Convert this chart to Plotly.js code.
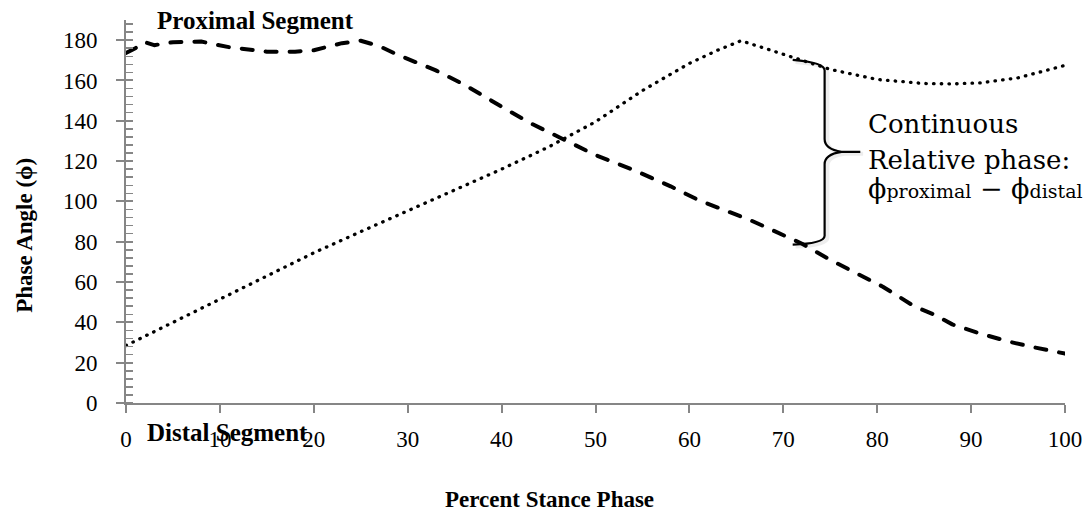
<!DOCTYPE html>
<html>
<head>
<meta charset="utf-8">
<script src="https://cdn.plot.ly/plotly-3.0.1.min.js"></script>
<style>
  html, body { margin: 0; padding: 0; background: #fff; }
  #chart { width: 1090px; height: 512px; }
  /* round caps give the dashes and dots their soft ends */
  .scatterlayer .js-line { stroke-linecap: round !important; stroke-linejoin: round !important; }
</style>
</head>
<body>
<div id="chart"></div>
<script>
// Percent of stance phase
const proximalX = [0, 1, 2, 3, 5, 8, 11, 15, 18, 20, 23, 25, 27, 29, 33, 36, 40, 43, 46.5, 50, 54, 58, 61, 66.5, 72, 75, 80.6, 84, 86, 88, 90.6, 93.8, 96.6, 100];
// Phase angle of the proximal segment (degrees)
const proximalPhase = [173.7, 176, 179, 177.5, 179, 179.3, 176.5, 174.3, 174.3, 175, 178.5, 179.7, 177, 172.6, 165, 158, 147, 139, 131, 123, 115.7, 107.5, 100.6, 90.7, 79, 71, 57.7, 47.8, 44, 39, 35, 30.7, 27.7, 24.5];

const distalX = [0, 5, 10, 15, 20, 25, 30, 35, 40, 45, 50, 55, 60, 63, 65.5, 68, 71, 75, 80, 85, 88, 91, 95, 100];
// Phase angle of the distal segment (degrees)
const distalPhase = [28.5, 40, 51.4, 63, 74.5, 85, 95.3, 105.5, 116, 127, 139.5, 155, 168.5, 175, 179.7, 176, 171.6, 165.5, 160.5, 158.5, 158.3, 158.8, 161.3, 167.5];

const xTicks = [0, 10, 20, 30, 40, 50, 60, 70, 80, 90, 100];
const yTicks = [0, 20, 40, 60, 80, 100, 120, 140, 160, 180];

const serif = 'Liberation Serif, Times New Roman, serif';
const axisGray = '#868686';

const traces = [
  {
    x: proximalX, y: proximalPhase, type: 'scatter', mode: 'lines',
    name: 'Proximal Segment',
    line: { color: '#000', width: 4, dash: '11px,13px' },
    hoverinfo: 'skip'
  },
  {
    x: distalX, y: distalPhase, type: 'scatter', mode: 'lines',
    name: 'Distal Segment',
    line: { color: '#000', width: 3.3, dash: '0.5px,7.2px' },
    hoverinfo: 'skip'
  },
  {
    // carries the overlay axis that draws the inner half of the major y ticks
    x: [null], y: [null], yaxis: 'y2', type: 'scatter', mode: 'lines',
    showlegend: false, hoverinfo: 'skip'
  }
];

// curly brace spanning the gap between the two curves
const brace = 'M 71,170.2 Q 74.4,168.9 74.4,165 L 74.4,131 Q 74.4,126 76.2,124.6 L 78.2,124.6 ' +
              'M 76.2,124.6 Q 74.4,123.4 74.4,118.5 L 74.4,83 Q 74.4,79.2 71,78.6';
const braceShadow = 'M 71.3,169.2 Q 74.7,167.9 74.7,164 L 74.7,130 Q 74.7,125 76.5,123.6 L 78.5,123.6 ' +
              'M 76.5,123.6 Q 74.7,122.4 74.7,117.5 L 74.7,82 Q 74.7,78.2 71.3,77.6';

const layout = {
  width: 1090, height: 512,
  margin: { l: 126, r: 25, t: 20, b: 108.7 },
  paper_bgcolor: '#fff', plot_bgcolor: '#fff',
  showlegend: false,
  font: { family: serif, color: '#000', size: 23 },
  xaxis: {
    range: [0, 100], tickmode: 'array', tickvals: xTicks, ticktext: xTicks.map(String),
    showgrid: false, zeroline: false,
    showline: true, linecolor: axisGray, linewidth: 2,
    ticks: 'outside', ticklen: 8, tickwidth: 2, tickcolor: axisGray,
    ticklabelstandoff: 6,
    tickfont: { family: serif, size: 23, color: '#000' }
  },
  yaxis: {
    range: [0, 190], tickmode: 'array', tickvals: yTicks, ticktext: yTicks.map(String),
    showgrid: false, zeroline: false,
    showline: true, linecolor: axisGray, linewidth: 2,
    ticks: 'outside', ticklen: 8, tickwidth: 2, tickcolor: axisGray,
    ticklabelstandoff: 14,
    tickfont: { family: serif, size: 23, color: '#000' },
    minor: { ticks: 'inside', ticklen: 7, tickwidth: 1.5, tickcolor: axisGray, dtick: 4, tick0: 0, showgrid: false }
  },
  yaxis2: {
    overlaying: 'y', matches: 'y', side: 'left',
    tickmode: 'array', tickvals: yTicks, showticklabels: false,
    showgrid: false, zeroline: false, showline: false,
    ticks: 'inside', ticklen: 7, tickwidth: 2, tickcolor: axisGray
  },
  shapes: [
    { type: 'path', path: braceShadow, xref: 'x', yref: 'y', line: { color: 'rgba(0,0,0,0.07)', width: 4 } },
    { type: 'path', path: brace, xref: 'x', yref: 'y', line: { color: '#000', width: 2.2 } }
  ],
  annotations: [
    { text: '<b>Proximal Segment</b>', xref: 'paper', yref: 'paper', x: 0.1384, y: 1.0,
      xanchor: 'center', yanchor: 'middle', showarrow: false,
      font: { family: serif, size: 25, color: '#000' } },
    { text: '<b>Distal Segment</b>', xref: 'paper', yref: 'paper', x: 0.1086, y: -0.0775,
      xanchor: 'center', yanchor: 'middle', showarrow: false,
      font: { family: serif, size: 25, color: '#000' } },
    { text: '<b>Percent Stance Phase</b>', xref: 'paper', yref: 'paper', x: 0.4515, y: -0.252,
      xanchor: 'center', yanchor: 'middle', showarrow: false,
      font: { family: serif, size: 23, color: '#000' } },
    { text: '<b>Phase Angle (ϕ)</b>', xref: 'paper', yref: 'paper', x: -0.1076, y: 0.439,
      xanchor: 'center', yanchor: 'middle', showarrow: false, textangle: -90,
      font: { family: serif, size: 23, color: '#000' } },
    { text: 'Continuous', xref: 'x', yref: 'y', x: 78.8, y: 138.5,
      xanchor: 'left', yanchor: 'middle', showarrow: false,
      font: { family: 'DejaVu Serif, serif', size: 26, color: '#000' } },
    { text: 'Relative phase:', xref: 'x', yref: 'y', x: 78.8, y: 120.6,
      xanchor: 'left', yanchor: 'middle', showarrow: false,
      font: { family: 'DejaVu Serif, serif', size: 26, color: '#000' } },
    { text: 'ϕ<span style="font-size:19px">proximal</span> − ϕ<span style="font-size:19px">distal</span>',
      xref: 'x', yref: 'y', x: 78.8, y: 106.6,
      xanchor: 'left', yanchor: 'middle', showarrow: false,
      font: { family: 'DejaVu Serif, serif', size: 27, color: '#000' } }
  ]
};

Plotly.newPlot('chart', traces, layout, { staticPlot: true, displayModeBar: false });
</script>
</body>
</html>
